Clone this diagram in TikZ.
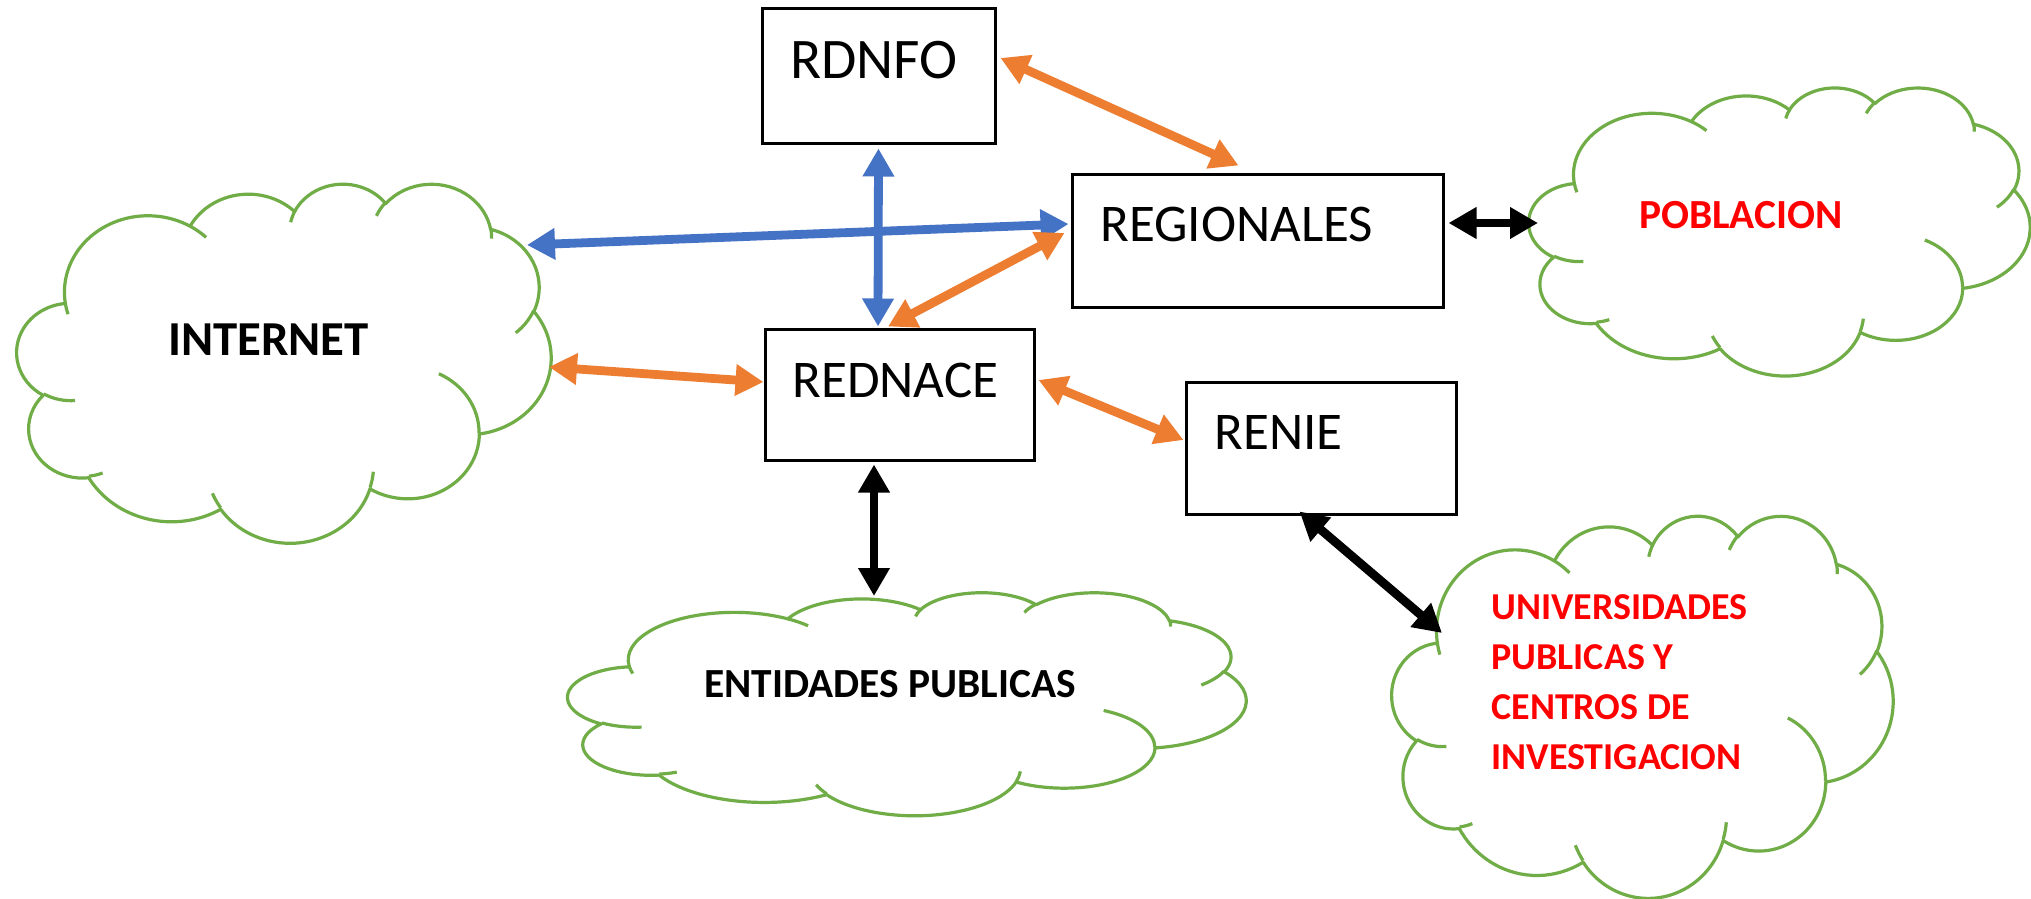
\documentclass[tikz,border=0pt]{standalone}
\usepackage{fontspec}
\setmainfont{Carlito}
\usetikzlibrary{arrows.meta}
\definecolor{oorange}{HTML}{ED7D31}
\definecolor{oblue}{HTML}{4472C4}
\definecolor{ogreen}{HTML}{70AD47}
\definecolor{ored}{HTML}{FF0000}

% OOXML-style arcTo: #1 wR, #2 hR, #3 start angle (deg, visual), #4 sweep (deg)
\newcommand\ooarc[4]{%
  \pgfmathsetmacro\oos{#3}%
  \pgfmathsetmacro\ooe{#3+#4}%
  \pgfmathsetmacro\oots{atan2(#1*sin(\oos),#2*cos(\oos))}%
  \pgfmathsetmacro\oots{\oots+360*round((\oos-\oots)/360)}%
  \pgfmathsetmacro\oote{atan2(#1*sin(\ooe),#2*cos(\ooe))}%
  \pgfmathsetmacro\oote{\oote+360*round((\ooe-\oote)/360)}%
  \pgfpatharc{\oots}{\oote}{#1pt and #2pt}%
}
\newcommand\cloudpath{%
  \pgfpathmoveto{\pgfqpoint{39pt}{143.7pt}}%
  \ooarc{67.53}{91.90}{-190.4875}{123.7805}%
  \ooarc{53.33}{72.67}{-144.1024}{89.9452}%
  \ooarc{43.65}{59.45}{-145.8079}{99.7230}%
  \ooarc{48.57}{65.95}{-130.9861}{117.2417}%
  \ooarc{53.33}{72.73}{-78.7089}{109.0269}%
  \ooarc{67.75}{92.20}{-46.2673}{130.2690}%
  \ooarc{57.85}{78.67}{0.6250}{114.0333}%
  \ooarc{67.52}{92.15}{22.4516}{115.1726}%
  \ooarc{77.20}{105.43}{66.2426}{75.7110}%
  \ooarc{43.60}{59.18}{-274.9421}{146.7356}%
  \ooarc{43.45}{59.45}{-246.8285}{152.5189}%
  \pgfpathclose}
\newcommand\cloudinner{%
  \pgfpathmoveto{\pgfqpoint{46.93pt}{261.77pt}}\ooarc{43.45}{59.45}{86.7420}{26.4295}%
  \pgfpathmoveto{\pgfqpoint{69.28pt}{348.99pt}}\ooarc{43.60}{59.18}{73.6105}{11.4475}%
  \pgfpathmoveto{\pgfqpoint{164.78pt}{390.90pt}}\ooarc{67.52}{92.15}{137.6242}{14.0811}%
  \pgfpathmoveto{\pgfqpoint{288.27pt}{347.51pt}}\ooarc{67.52}{92.15}{6.4533}{15.9984}%
  \pgfpathmoveto{\pgfqpoint{341.29pt}{229.54pt}}\ooarc{57.85}{78.67}{-70.2924}{70.9174}%
  \pgfpathmoveto{\pgfqpoint{417.98pt}{153.54pt}}\ooarc{53.33}{72.73}{30.3180}{27.7515}%
  \pgfpathmoveto{\pgfqpoint{383.24pt}{54.26pt}}\ooarc{48.57}{65.95}{-13.7443}{14.8589}%
  \pgfpathmoveto{\pgfqpoint{290.78pt}{39.52pt}}\ooarc{48.57}{65.95}{-149.1815}{18.1954}%
  \pgfpathmoveto{\pgfqpoint{221.41pt}{47.20pt}}\ooarc{43.65}{59.45}{-163.4943}{17.6864}%
  \pgfpathmoveto{\pgfqpoint{140.00pt}{51.92pt}}\ooarc{67.53}{91.90}{-66.7070}{12.3194}%
  \pgfpathmoveto{\pgfqpoint{41.27pt}{157.89pt}}\ooarc{67.53}{91.90}{157.6544}{11.8582}%
}
% #1 x0, #2 y0, #3 W, #4 H  (pixel units)
\newcommand\drawcloud[4]{%
  \begin{scope}[shift={(#1,#2)},xscale={#3/864},yscale={-#4/864}]
    \pgfsetlinewidth{1.6pt}\pgfsetroundjoin
    \pgfsetfillcolor{white}\pgfsetstrokecolor{ogreen}%
    \cloudpath
    \pgfusepath{fill,stroke}%
    \cloudinner
    \pgfusepath{stroke}%
  \end{scope}}

\tikzset{
  boxnode/.style={draw=black, line width=1.5pt, fill=white, inner sep=0pt},
  boxtext/.style={anchor=base west, inner sep=0pt, font=\fontsize{26.5}{30}\selectfont},
  frame/.style={inner sep=0pt, outer sep=0pt},
  cloudtext/.style={inner sep=0pt, font=\bfseries\fontsize{20.7}{25}\selectfont},
  conn/.style={line width=4.4pt, {Triangle[length=14pt,width=15pt]}-{Triangle[length=14pt,width=15pt]}}
}

\begin{document}
\begin{tikzpicture}[x=0.5pt,y=-0.5pt]
\fill[white] (0,0) rectangle (2031,899);
\useasboundingbox (0,0) rectangle (2031,899);

% cloud frames
\node[frame, minimum width=267pt, minimum height=179.5pt] (internet) at (284,362.5) {};
\node[frame, minimum width=250.5pt, minimum height=144pt] (poblacion) at (1779.5,231) {};
\node[frame, minimum width=339pt, minimum height=111.5pt] (entidades) at (907,703.5) {};
\node[frame, minimum width=250.5pt, minimum height=191pt] (univ) at (1642.5,706) {};

\drawcloud{17}{183}{534}{359}
\drawcloud{1529}{87}{501}{288}
\drawcloud{568}{592}{678}{223}
\drawcloud{1392}{515}{501}{382}

\node[cloudtext, font=\bfseries\fontsize{24.4}{28}\selectfont] (tinternet) at (268.5,340) {INTERNET};
\node[cloudtext, text=ored] (tpoblacion) at (1741,215) {POBLACION};
\node[cloudtext] (tentidades) at (890,684) {ENTIDADES PUBLICAS};
\node[cloudtext, text=ored, anchor=north west, align=left, font=\bfseries\fontsize{19}{25}\selectfont] (tuniv) at (1491,594) {UNIVERSIDADES\\PUBLICAS Y\\CENTROS DE\\INVESTIGACION};

% boxes
\node[boxnode, minimum width=116.5pt, minimum height=67.5pt] (rdnfo) at (878.5,76.5) {};
\node[boxnode, minimum width=185.5pt, minimum height=66pt] (regionales) at (1257.5,241) {};
\node[boxnode, minimum width=134.5pt, minimum height=65.5pt] (rednace) at (899.5,394.5) {};
\node[boxnode, minimum width=135pt, minimum height=66pt] (renie) at (1321,448) {};

\node[boxtext, font=\fontsize{28.7}{32}\selectfont] (trdnfo) at (790,79) {RDNFO};
\node[boxtext] (tregionales) at (1100,242) {REGIONALES};
\node[boxtext] (trednace) at (792,397) {REDNACE};
\node[boxtext] (trenie) at (1214,449) {RENIE};

% connectors
\draw[conn, oorange] ([shift={(4,-18.5)}]rdnfo.east) -- ([shift={(168,-8)}]regionales.north west);
\draw[conn, oblue] ([shift={(0,3)}]rdnfo.south) -- ([shift={(-21.5,-1)}]rednace.north);
\draw[conn, oblue] ([shift={(243,-117.5)}]internet.center) -- ([shift={(-2,-17)}]regionales.west);
\draw[conn, oorange] ([shift={(-6,-8)}]regionales.west) -- ([shift={(-11.5,-1)}]rednace.north);
\draw[conn, oorange] ([shift={(265,4.5)}]internet.center) -- ([shift={(0,-12.5)}]rednace.west);
\draw[conn, oorange] ([shift={(3,-14.5)}]rednace.east) -- ([shift={(-1,-8)}]renie.west);
\draw[conn, black] ([shift={(-25.5,3)}]rednace.south) -- ([shift={(-33,4)}]entidades.north);
\draw[conn, black] ([shift={(4,-18)}]regionales.east) -- ([shift={(-241.5,-8)}]poblacion.center);
\draw[conn, black] ([shift={(-21.5,-4)}]renie.south) -- ([shift={(-200.5,-73)}]univ.center);
\end{tikzpicture}
\end{document}
